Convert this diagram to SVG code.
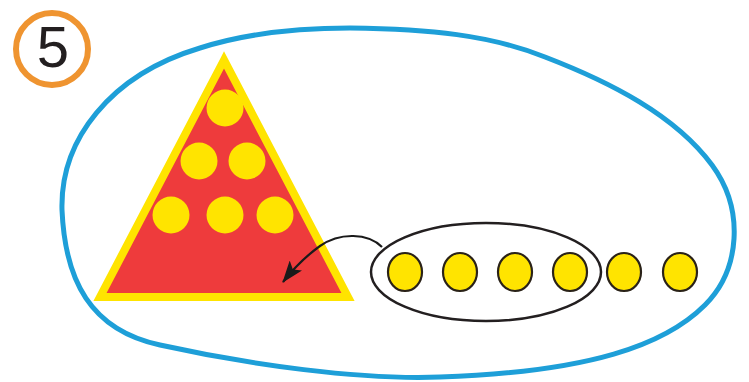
<svg xmlns="http://www.w3.org/2000/svg" width="749" height="382" viewBox="0 0 749 382">
  <style>
    .dot { fill: #ffe400; }
    .odot { fill: #ffe400; stroke: #2a2218; stroke-width: 2.2; }
    .num { font-family: "Liberation Sans", Arial, sans-serif; font-size: 58px; fill: #231f20; }
  </style>
  <defs>
    <marker id="head" markerUnits="userSpaceOnUse" markerWidth="22" markerHeight="16" viewBox="0 0 22 16" refX="21" refY="8" orient="auto">
      <path d="M0,0 L22,8 L0,16 L5,8 Z" fill="#1a1a1a"/>
    </marker>
  </defs>
  <rect width="749" height="382" fill="#ffffff"/>

  <g id="badge">
    <circle cx="52" cy="49" r="36" fill="none" stroke="#ef9430" stroke-width="6"/>
    <text class="num" x="53" y="67" text-anchor="middle">5</text>
  </g>

  <g id="set">
    <path d="M62,210 C60,140 110,75 200,48 C250,32 300,28 350,28 C430,29 490,35 545,57 C610,82 675,115 712,165 C745,210 740,270 705,305 C665,345 590,372 440,377 C360,380 250,365 160,345 C90,330 65,280 62,210 Z" fill="none" stroke="#1e9fd8" stroke-width="5"/>
  </g>

  <g id="triangle">
    <polygon points="224,60 100,297 348,297" fill="#ee3b3c" stroke="#ffe400" stroke-width="8" stroke-linejoin="miter"/>
    <circle class="dot" cx="225" cy="108" r="18.5"/>
    <circle class="dot" cx="199" cy="161" r="18.5"/>
    <circle class="dot" cx="247" cy="161" r="18.5"/>
    <circle class="dot" cx="171" cy="215" r="18.5"/>
    <circle class="dot" cx="225" cy="215" r="18.5"/>
    <circle class="dot" cx="275" cy="215" r="18.5"/>
  </g>

  <g id="group-of-four">
    <ellipse cx="486" cy="272" rx="115" ry="49" fill="none" stroke="#231f20" stroke-width="2.5"/>
  </g>

  <g id="dots">
    <ellipse class="odot" cx="405" cy="272" rx="17" ry="19"/>
    <ellipse class="odot" cx="460" cy="272" rx="17" ry="19"/>
    <ellipse class="odot" cx="515" cy="272" rx="17" ry="19"/>
    <ellipse class="odot" cx="570" cy="272" rx="17" ry="19"/>
    <ellipse class="odot" cx="624" cy="272" rx="17" ry="19"/>
    <ellipse class="odot" cx="680" cy="272" rx="17" ry="19"/>
  </g>

  <g id="connectors">
    <path d="M382,247 C368,233 340,232 320,246 C306,256 294,268 283,282" fill="none" stroke="#1a1a1a" stroke-width="2.2" marker-end="url(#head)"/>
  </g>
</svg>
